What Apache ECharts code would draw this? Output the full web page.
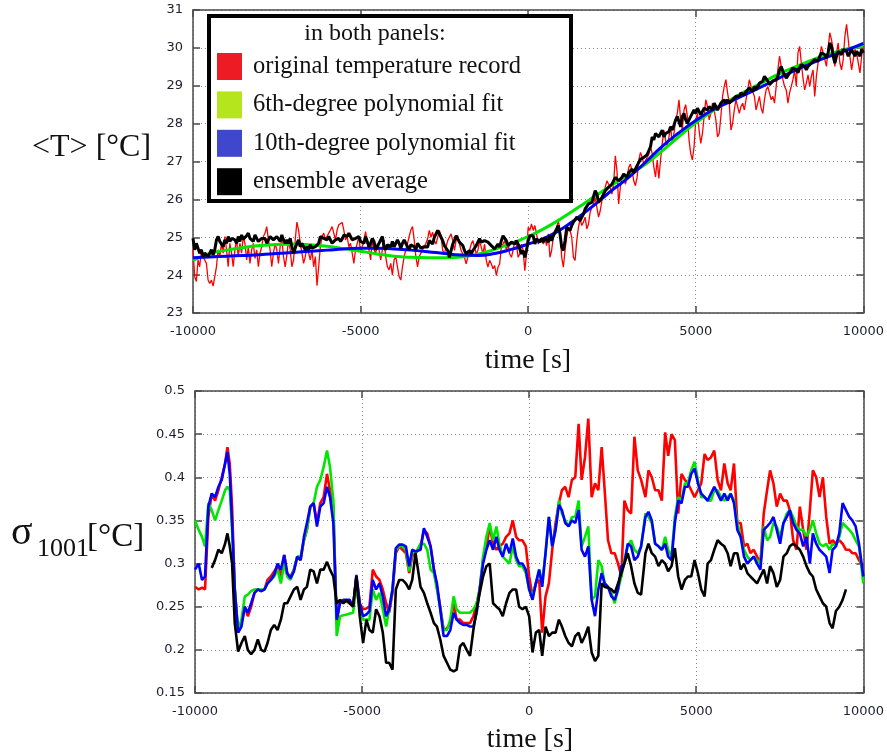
<!DOCTYPE html>
<html>
<head>
<meta charset="utf-8">
<script src="https://cdn.jsdelivr.net/npm/echarts/dist/echarts.min.js"></script>
<style>
html,body{margin:0;padding:0;background:#fff;}
#chart{width:887px;height:754px;}
</style>
</head>
<body>
<div id="chart"></div>
<script>
// ---------- TOP PANEL: <T> vs time, sampled every 50 s from -10000 s ----------
const topStart = -10000;
const topStep = 50;
const topRed = [
24.67,23.96,23.83,24.40,24.22,24.67,24.49,24.40,24.31,23.87,
23.78,23.87,23.71,23.96,24.22,24.67,24.49,24.84,24.58,25.02,
24.67,24.22,24.84,24.58,24.22,24.67,24.93,24.49,24.84,24.58,
25.02,24.84,24.40,24.75,24.31,24.67,24.84,24.44,24.67,24.22,
24.58,24.75,25.02,25.11,25.28,24.93,24.67,24.22,24.58,24.84,
24.67,24.31,24.75,24.97,24.49,24.22,24.53,24.93,24.67,24.22,
24.40,24.93,25.40,25.19,24.84,24.58,24.31,24.49,24.75,24.58,
24.40,24.67,24.22,24.49,23.72,24.22,24.75,25.02,25.11,24.93,
24.97,25.11,25.19,25.28,25.11,24.93,25.19,25.33,25.37,25.39,
25.19,24.93,25.02,24.75,24.84,24.58,24.31,24.67,24.84,25.02,
24.58,24.75,24.93,25.15,24.84,24.67,24.40,24.93,24.67,24.58,
24.84,24.67,24.40,24.67,24.93,24.49,24.22,24.14,24.31,24.00,
24.40,24.49,24.22,23.96,23.87,24.22,24.49,24.67,24.84,25.02,
25.19,25.28,24.93,24.49,24.22,24.49,24.58,24.67,24.75,24.84,
24.96,25.18,25.00,25.13,24.91,24.82,25.00,25.18,25.04,24.65,
24.56,24.74,24.91,25.00,25.09,24.91,24.65,24.91,25.04,24.82,
24.65,24.56,24.47,24.30,24.47,24.65,24.82,24.91,24.74,24.56,
24.65,24.91,24.74,24.56,24.82,24.39,24.21,24.39,24.30,24.17,
24.25,23.99,24.21,24.30,24.74,24.82,24.91,24.65,24.82,24.56,
24.47,24.65,24.91,24.82,24.47,24.56,24.82,24.65,24.12,24.56,
25.26,25.18,25.35,25.18,25.31,25.09,24.82,24.87,25.00,24.82,
24.96,24.78,25.09,24.47,24.65,25.00,25.09,25.26,25.44,25.18,
24.47,24.21,24.65,25.00,25.26,25.18,25.00,24.47,24.39,24.91,
25.26,25.48,25.31,25.40,25.53,25.22,25.35,25.66,25.79,25.88,
26.05,25.79,25.53,25.70,25.96,26.23,26.32,26.49,26.40,26.32,
26.14,26.40,27.15,26.75,25.88,26.32,26.58,26.67,26.40,26.58,
26.84,26.93,26.75,26.49,26.36,26.58,27.02,27.24,27.11,26.93,
27.02,27.11,27.19,
27.39,27.21,26.86,26.59,27.04,26.55,27.04,27.48,27.83,27.57,
27.39,27.65,27.92,27.48,27.74,28.10,28.27,28.63,28.10,27.83,
28.36,28.50,28.19,27.57,27.21,27.04,27.39,28.10,28.27,27.83,
27.48,27.74,28.19,28.63,28.45,28.10,28.27,28.54,28.36,28.10,
27.65,27.74,28.19,28.72,28.98,29.16,28.81,28.54,27.83,28.01,
28.36,28.63,28.45,28.27,28.45,28.54,28.36,28.63,28.89,29.16,
28.98,28.85,28.72,28.36,28.54,28.72,28.41,28.27,28.63,28.89,
28.98,28.81,28.63,28.72,28.54,28.98,29.42,29.78,29.51,29.16,
28.98,28.89,28.54,28.81,28.98,29.16,29.42,28.98,29.87,30.04,
29.60,29.20,28.89,29.07,29.29,28.98,29.25,29.42,28.72,29.25,
29.60,29.78,30.04,29.87,29.69,29.51,30.00,30.40,30.22,29.96,
29.51,29.87,30.13,29.60,29.42,29.69,30.31,30.62,30.22,29.78,
29.42,29.69,29.96,29.87,29.60,29.34,29.78,30.04
];
const topBlack = [
24.97,24.67,24.84,24.71,24.58,24.67,24.49,24.58,24.53,24.49,
24.58,24.67,24.53,24.67,24.93,25.02,24.89,24.84,24.75,24.93,
24.84,25.02,24.89,24.97,25.02,24.93,24.84,25.02,24.89,25.06,
24.95,25.00,25.04,25.11,24.97,25.02,24.89,25.06,24.97,24.89,
24.84,24.97,25.02,24.97,24.84,24.93,25.02,25.06,24.93,24.89,
25.02,24.97,24.89,25.06,24.93,24.84,24.93,24.84,24.97,24.75,
24.58,24.71,24.84,24.93,24.75,24.84,24.75,24.67,24.75,24.67,
24.80,24.71,24.67,24.75,24.71,24.84,25.02,25.06,24.97,25.02,
24.93,25.02,24.97,24.84,24.89,24.93,24.89,24.97,24.89,24.95,
25.06,25.11,25.02,25.11,25.02,24.93,24.89,24.97,24.93,25.02,
24.89,24.93,24.84,25.02,24.89,24.75,24.84,24.97,24.89,24.67,
24.75,24.84,24.93,25.02,24.75,24.67,24.80,24.84,24.75,24.89,
24.75,24.84,24.93,24.84,24.71,24.84,24.93,24.89,24.75,24.67,
24.80,24.84,24.75,24.67,24.84,24.89,24.71,24.67,24.75,24.80,
24.74,24.91,24.87,24.82,25.00,25.09,25.18,25.22,25.00,24.91,
24.78,24.74,24.65,24.47,24.65,24.82,24.91,25.04,25.00,24.87,
24.91,24.78,24.65,24.56,24.61,24.65,24.56,24.65,24.69,24.78,
24.82,24.96,24.87,24.82,24.91,24.96,24.87,24.82,24.78,24.74,
24.69,24.65,24.82,24.74,24.91,25.04,25.09,24.91,24.78,24.74,
24.87,24.91,24.82,24.91,24.82,24.69,24.56,24.65,24.47,24.65,
24.91,25.04,25.09,25.04,24.82,24.96,24.91,24.87,24.96,24.87,
25.00,24.96,24.87,25.04,24.91,25.04,25.09,25.22,25.31,25.09,
24.74,24.65,24.91,25.26,25.31,25.18,25.31,25.40,25.44,25.53,
25.48,25.44,25.53,25.61,25.75,25.79,25.88,25.83,25.92,25.96,
26.23,26.14,25.92,25.88,26.05,26.14,26.23,26.27,26.32,26.36,
26.40,26.45,26.58,26.54,26.49,26.54,26.58,26.67,26.62,26.58,
26.71,26.75,26.80,26.71,26.75,26.89,26.93,27.06,27.02,27.11,
27.15,27.18,27.19,
27.39,27.65,27.57,27.74,27.70,27.65,27.74,27.83,27.65,27.74,
27.70,27.79,27.92,27.83,27.96,28.10,28.19,28.05,27.92,28.19,
28.27,28.10,28.01,28.10,28.19,28.23,28.36,28.27,28.41,28.32,
28.23,28.27,28.41,28.45,28.36,28.45,28.41,28.36,28.54,28.50,
28.36,28.41,28.54,28.58,28.63,28.54,28.63,28.54,28.58,28.63,
28.67,28.72,28.76,28.72,28.81,28.85,28.76,28.85,28.89,28.94,
28.89,28.85,28.98,28.89,28.98,29.07,29.03,29.12,29.25,29.20,
29.12,29.03,28.98,29.12,29.07,29.16,29.25,29.42,29.51,29.38,
29.29,29.20,29.25,29.34,29.38,29.47,29.51,29.42,29.34,29.47,
29.56,29.60,29.51,29.42,29.51,29.56,29.60,29.65,29.69,29.73,
29.65,29.78,29.87,29.91,29.82,29.73,29.87,30.13,30.04,29.78,
29.60,29.78,29.91,29.87,29.82,29.96,30.00,29.91,29.78,29.87,
29.96,29.87,29.78,29.91,29.87,29.78,29.96,29.87
];
// polynomial fits, read every 500 s
const fitTimes = [-10000,-9500,-9000,-8500,-8000,-7500,-7000,-6500,-6000,-5500,-5000,-4500,-4000,-3500,-3000,-2500,-2000,-1500,-1000,-500,0,500,1000,1500,2000,2500,3000,3500,4000,4500,5000,5500,6000,6500,7000,7500,8000,8500,9000,9500,10000];
const topGreen = [24.39,24.57,24.66,24.73,24.78,24.81,24.82,24.80,24.76,24.70,24.63,24.56,24.50,24.47,24.46,24.46,24.48,24.55,24.68,24.84,25.02,25.24,25.50,25.79,26.09,26.38,26.66,26.93,27.28,27.66,28.02,28.33,28.61,28.86,29.09,29.32,29.51,29.69,29.84,29.97,30.04];
const topBlue = [24.46,24.48,24.50,24.52,24.54,24.57,24.60,24.63,24.66,24.69,24.71,24.71,24.69,24.66,24.62,24.57,24.53,24.52,24.57,24.68,24.82,24.98,25.22,25.53,25.87,26.24,26.58,26.98,27.40,27.76,28.08,28.36,28.57,28.78,28.99,29.21,29.42,29.61,29.78,29.94,30.12];

// ---------- BOTTOM PANEL: sigma_1001 vs time ----------
const botTimes = [
-10000,-9890,-9790,-9700,-9600,-9500,-9400,-9300,-9200,-9100,-9030,-8960,-8890,
-8810,-8710,-8610,-8510,-8420,-8320,-8220,-8120,-8020,-7920,-7830,-7730,-7630,-7530,-7430,-7330,-7240,-7140,-7040,
-6940,-6840,-6740,-6650,-6550,-6450,-6350,-6250,-6150,-6050,-5960,-5860,-5760,-5660,-5560,-5460,-5370,-5270,-5170,-5070,
-4970,-4870,-4780,-4680,-4580,-4480,-4380,-4280,-4190,-4090,-3990,-3890,-3790,-3690,-3590,-3500,-3400,
-3250,-3150,-3050,-2950,-2850,-2760,-2660,-2560,-2460,-2360,-2260,-2170,-2070,-1970,-1870,-1770,-1670,-1570,-1480,-1380,
-1280,-1180,-1080,-980,-890,-790,-690,-590,-490,-390,-300,-200,-100,0,100,200,300,390,490,590,
690,790,890,980,1080,1180,1280,1380,1480,1570,1670,1770,1870,1970,2070,2170,2260,2360,2460,2560,
2660,2760,2850,2950,3050,3150,3250,3350,
3480,3570,3670,3770,3870,3970,4070,4160,4260,4360,4460,4560,4660,4750,4850,4950,5050,5150,5250,5340,
5440,5540,5640,5740,5840,5940,6030,6130,6230,6330,6430,6530,6620,6720,6820,6920,7020,7120,7210,7310,
7410,7510,7610,7710,7800,7900,8000,8100,8200,8300,8400,8490,8590,8690,8790,8890,8990,9080,9180,9280,
9380,9480,9580,9670,9770,9870,10000
];
const botRed = [
0.273,0.270,0.272,0.270,0.354,0.381,0.373,0.385,0.400,0.416,0.435,0.416,0.366,
0.270,0.220,0.231,0.250,0.239,0.250,0.266,0.270,0.268,0.270,0.281,0.285,0.291,0.297,0.285,0.310,0.287,0.285,0.293,
0.308,0.304,0.327,0.339,0.366,0.370,0.347,0.370,0.377,0.404,0.385,0.366,0.231,0.258,0.256,0.256,0.254,0.250,0.285,0.254,
0.247,0.248,0.250,0.293,0.285,0.281,0.270,0.254,0.243,0.266,0.312,0.320,0.316,0.312,0.289,0.308,0.312,
0.320,0.339,0.335,0.320,0.293,0.273,0.250,0.223,0.225,0.231,0.254,0.235,0.235,0.231,0.231,0.231,0.239,0.254,0.270,0.304,
0.320,0.343,0.323,0.316,0.320,0.323,0.331,0.335,0.350,0.331,0.327,0.327,0.320,0.285,0.262,0.277,0.281,0.220,0.262,0.277,
0.316,0.347,0.370,0.385,0.389,0.377,0.397,0.400,0.462,0.397,0.423,0.468,0.377,0.393,0.385,0.435,0.385,0.327,0.312,0.312,
0.300,0.285,0.373,0.362,0.358,0.447,0.408,0.397,
0.377,0.408,0.400,0.385,0.385,0.373,0.452,0.425,0.450,0.443,0.358,0.404,0.397,0.393,0.385,0.377,0.385,0.393,0.427,0.420,
0.423,0.431,0.397,0.385,0.416,0.393,0.385,0.416,0.347,0.347,0.320,0.323,0.312,0.316,0.308,0.300,0.358,0.385,0.408,0.393,
0.366,0.381,0.373,0.373,0.362,0.327,0.316,0.366,0.339,0.316,0.362,0.408,0.400,0.377,0.400,0.354,0.323,0.327,0.323,0.327,
0.323,0.316,0.316,0.312,0.312,0.304,0.297
];
const botGreen = [
0.350,0.339,0.331,0.320,0.370,0.362,0.350,0.362,0.373,0.385,0.389,0.385,0.339,
0.270,0.223,0.235,0.262,0.264,0.268,0.270,0.270,0.270,0.270,0.277,0.281,0.285,0.293,0.277,0.300,0.285,0.281,0.293,
0.308,0.308,0.327,0.339,0.366,0.370,0.389,0.397,0.412,0.431,0.412,0.373,0.216,0.239,0.240,0.241,0.242,0.243,0.273,0.247,
0.235,0.235,0.235,0.270,0.258,0.266,0.247,0.227,0.247,0.270,0.316,0.320,0.320,0.316,0.291,0.314,0.312,
0.323,0.323,0.316,0.293,0.289,0.270,0.247,0.223,0.223,0.235,0.262,0.247,0.243,0.243,0.243,0.243,0.247,0.254,0.270,0.308,
0.331,0.347,0.327,0.343,0.323,0.308,0.304,0.300,0.320,0.304,0.297,0.297,0.289,0.270,0.262,0.277,0.293,0.277,0.312,0.354,
0.320,0.339,0.373,0.358,0.350,0.343,0.354,0.354,0.373,0.320,0.331,0.343,0.258,0.262,0.304,0.297,0.277,0.273,0.266,0.254,
0.270,0.285,0.304,0.320,0.327,0.316,0.312,0.320,
0.358,0.354,0.347,0.323,0.320,0.316,0.331,0.316,0.308,0.354,0.377,0.373,0.393,0.393,0.408,0.418,0.397,0.377,0.377,0.373,
0.373,0.385,0.385,0.377,0.373,0.377,0.381,0.373,0.347,0.331,0.316,0.308,0.304,0.308,0.304,0.300,0.343,0.327,0.331,0.347,
0.343,0.331,0.347,0.358,0.362,0.354,0.343,0.339,0.339,0.331,0.339,0.350,0.335,0.323,0.320,0.323,0.316,0.323,0.320,0.331,
0.347,0.343,0.339,0.335,0.327,0.320,0.277
];
const botBlue = [
0.293,0.300,0.281,0.285,0.366,0.381,0.377,0.389,0.397,0.416,0.429,0.404,0.347,
0.270,0.220,0.227,0.250,0.243,0.254,0.266,0.270,0.268,0.270,0.277,0.281,0.287,0.300,0.293,0.310,0.289,0.283,0.291,
0.308,0.304,0.331,0.347,0.366,0.370,0.343,0.366,0.370,0.389,0.377,0.347,0.235,0.254,0.258,0.258,0.258,0.250,0.287,0.254,
0.239,0.241,0.245,0.281,0.270,0.277,0.262,0.239,0.247,0.270,0.318,0.322,0.322,0.320,0.297,0.316,0.314,
0.316,0.341,0.331,0.320,0.293,0.277,0.247,0.216,0.216,0.223,0.243,0.235,0.231,0.229,0.229,0.227,0.227,0.243,0.270,0.300,
0.316,0.327,0.316,0.331,0.316,0.308,0.323,0.312,0.329,0.308,0.300,0.300,0.293,0.270,0.258,0.277,0.293,0.273,0.312,0.354,
0.320,0.339,0.368,0.362,0.347,0.343,0.350,0.347,0.362,0.316,0.308,0.320,0.258,0.239,0.270,0.289,0.277,0.273,0.262,0.258,
0.270,0.297,0.300,0.323,0.320,0.304,0.308,0.320,
0.354,0.360,0.350,0.323,0.320,0.316,0.323,0.308,0.304,0.347,0.373,0.370,0.389,0.389,0.404,0.410,0.393,0.381,0.377,0.373,
0.381,0.389,0.381,0.373,0.381,0.373,0.381,0.370,0.339,0.331,0.308,0.300,0.304,0.308,0.300,0.293,0.339,0.343,0.347,0.354,
0.339,0.323,0.347,0.354,0.362,0.347,0.339,0.335,0.320,0.331,0.300,0.335,0.323,0.316,0.312,0.308,0.289,0.316,0.320,0.335,
0.370,0.362,0.354,0.350,0.343,0.323,0.285
];
const botBlack = [
null,null,null,null,null,0.295,0.304,0.316,0.312,0.323,0.335,0.320,0.300,
0.231,0.198,0.208,0.216,0.200,0.195,0.200,0.212,0.200,0.198,0.208,0.223,0.229,0.223,0.235,0.254,0.254,0.262,0.270,
0.273,0.258,0.270,0.273,0.293,0.291,0.277,0.293,0.293,0.302,0.293,0.285,0.254,0.258,0.254,0.258,0.254,0.250,0.285,0.239,
0.208,0.235,0.223,0.220,0.247,0.239,0.220,0.185,0.185,0.177,0.270,0.281,0.281,0.277,0.270,0.281,0.312,
0.273,0.266,0.254,0.243,0.231,0.227,0.212,0.193,0.185,0.177,0.175,0.177,0.204,0.208,0.200,0.193,0.223,0.247,0.266,0.285,
0.297,0.300,0.254,0.250,0.247,0.239,0.254,0.266,0.270,0.270,0.250,0.247,0.250,0.239,0.197,0.220,0.223,0.193,0.227,0.216,
0.220,0.220,0.235,0.227,0.216,0.208,0.204,0.216,0.220,0.208,0.216,0.227,0.197,0.187,0.193,0.277,0.273,0.272,0.270,0.266,
0.277,0.289,0.300,0.312,0.297,0.277,0.266,0.264,
0.312,0.323,0.312,0.308,0.297,0.304,0.300,0.291,0.297,0.318,0.285,0.270,0.281,0.285,0.285,0.304,0.289,0.270,0.262,0.300,
0.304,0.316,0.327,0.323,0.320,0.312,0.297,0.312,0.312,0.293,0.300,0.289,0.285,0.281,0.277,0.285,0.293,0.277,0.297,0.289,
0.273,0.281,0.308,0.312,0.320,0.323,0.320,0.316,0.308,0.297,0.289,0.285,0.270,0.262,0.254,0.250,0.231,0.225,0.245,0.250,
0.258,0.270,null,null,null,null,null
];

// axis ticks
const xTicks = {min: -10000, max: 10000, interval: 5000};
const topY = {min: 23, max: 31, interval: 1};
const botY = {min: 0.15, max: 0.5, interval: 0.05};

const names = ['original temperature record','6th-degree polynomial fit','10th-degree polynomial fit','ensemble average'];
const swatch = ['#ed1c24','#b5e61d','#3f48cc','#000000'];

const topTimes = topRed.map((_, i) => topStart + i * topStep);
const pairs = (t, v) => t.map((x, i) => [x, v[i]]);

const frame = {color: '#4a4a4a', width: 1.5};
const tickFont = {fontFamily: 'DejaVu Sans', fontSize: 13, color: '#1e1e30'};
function mainX(grid) {
  return Object.assign({type:'value', gridIndex:grid, position:'bottom'}, xTicks, {
    axisLine:{show:true, onZero:false, lineStyle:frame},
    axisTick:{show:true, inside:true, length:7, lineStyle:frame},
    splitLine:{show:true, lineStyle:{color:'#8a8a8a', width:1, type:[1,3]}},
    axisLabel:Object.assign({margin:12, formatter:v=>String(v)}, tickFont)
  });
}
function mirrorX(grid) {
  return Object.assign({type:'value', gridIndex:grid, position:'top'}, xTicks, {
    axisLine:{show:true, onZero:false, lineStyle:frame},
    axisTick:{show:true, inside:true, length:7, lineStyle:frame},
    splitLine:{show:false}, axisLabel:{show:false}
  });
}
function mainY(grid, r) {
  return Object.assign({type:'value', gridIndex:grid, position:'left'}, r, {
    axisLine:{show:true, onZero:false, lineStyle:frame},
    axisTick:{show:true, inside:true, length:7, lineStyle:frame},
    splitLine:{show:true, lineStyle:{color:'#8a8a8a', width:1, type:[1,3]}},
    axisLabel:Object.assign({margin:10}, tickFont)
  });
}
function mirrorY(grid, r) {
  return Object.assign({type:'value', gridIndex:grid, position:'right'}, r, {
    axisLine:{show:true, onZero:false, lineStyle:frame},
    axisTick:{show:true, inside:true, length:7, lineStyle:frame},
    splitLine:{show:false}, axisLabel:{show:false}
  });
}

function line(name, xi, yi, data, color, width, z, smooth) {
  return {name, type:'line', xAxisIndex:xi, yAxisIndex:yi, data, showSymbol:false, symbol:'none',
    smooth: !!smooth, connectNulls:false, z, lineStyle:{color, width}, itemStyle:{color}};
}

const serif = '"Liberation Serif","Times New Roman",serif';
const chart = echarts.init(document.getElementById('chart'), null, {renderer:'canvas'});
chart.setOption({
  animation:false,
  backgroundColor:'#ffffff',
  grid:[
    {left:193, top:10, width:675, height:303},
    {left:195, top:391, width:677, height:302}
  ],
  xAxis:[mainX(0), mirrorX(0), mainX(1), mirrorX(1)],
  yAxis:[mainY(0, topY), mirrorY(0, topY), mainY(1, botY), mirrorY(1, botY)],
  legend:{
    orient:'vertical', left:212, top:48, itemWidth:25, itemHeight:27, itemGap:11.4,
    icon:'rect', selectedMode:false, z:20,
    data:names.map((n, i) => ({name:n, icon:'rect', itemStyle:{color:swatch[i], borderWidth:0}})),
    textStyle:{fontFamily:serif, fontSize:24.5, color:'#111', padding:[0,0,0,6]}
  },
  graphic:[
    {type:'rect', z:15, shape:{x:209, y:16, width:362, height:185}, style:{fill:'#fff', stroke:'#000', lineWidth:4}},
    {type:'text', z:16, x:375, y:34, style:{text:'in both panels:', font:'24px ' + serif, fill:'#111', textAlign:'center', textVerticalAlign:'middle'}},
    {type:'text', z:16, x:32, y:148, style:{text:'<T> [°C]', font:'32px ' + serif, fill:'#111', textAlign:'left', textVerticalAlign:'middle'}},
    {type:'text', z:16, x:528, y:361, style:{text:'time [s]', font:'28px ' + serif, fill:'#111', textAlign:'center', textVerticalAlign:'middle'}},
    {type:'text', z:16, x:11, y:533, style:{text:'σ', font:'40px ' + serif, fill:'#111', textAlign:'left', textVerticalAlign:'middle'}},
    {type:'text', z:16, x:37, y:549, style:{text:'1001', font:'26px ' + serif, fill:'#111', textAlign:'left', textVerticalAlign:'middle'}},
    {type:'text', z:16, x:87, y:537, style:{text:'[°C]', font:'33px ' + serif, fill:'#111', textAlign:'left', textVerticalAlign:'middle'}},
    {type:'text', z:16, x:530, y:740, style:{text:'time [s]', font:'28px ' + serif, fill:'#111', textAlign:'center', textVerticalAlign:'middle'}}
  ],
  series:[
    line(names[0], 0, 0, pairs(topTimes, topRed), '#ff0000', 1.3, 2),
    line(names[1], 0, 0, pairs(fitTimes, topGreen), '#00e600', 3, 3, true),
    line(names[2], 0, 0, pairs(fitTimes, topBlue), '#0000ff', 3, 4, true),
    line(names[3], 0, 0, pairs(topTimes, topBlack), '#000000', 3, 5),
    line(names[0], 2, 2, pairs(botTimes, botRed), '#ff0000', 2.6, 2),
    line(names[1], 2, 2, pairs(botTimes, botGreen), '#00e600', 2.6, 3),
    line(names[2], 2, 2, pairs(botTimes, botBlue), '#0000ff', 2.6, 4),
    line(names[3], 2, 2, pairs(botTimes, botBlack), '#000000', 2.6, 5)
  ]
});
</script>
</body>
</html>
